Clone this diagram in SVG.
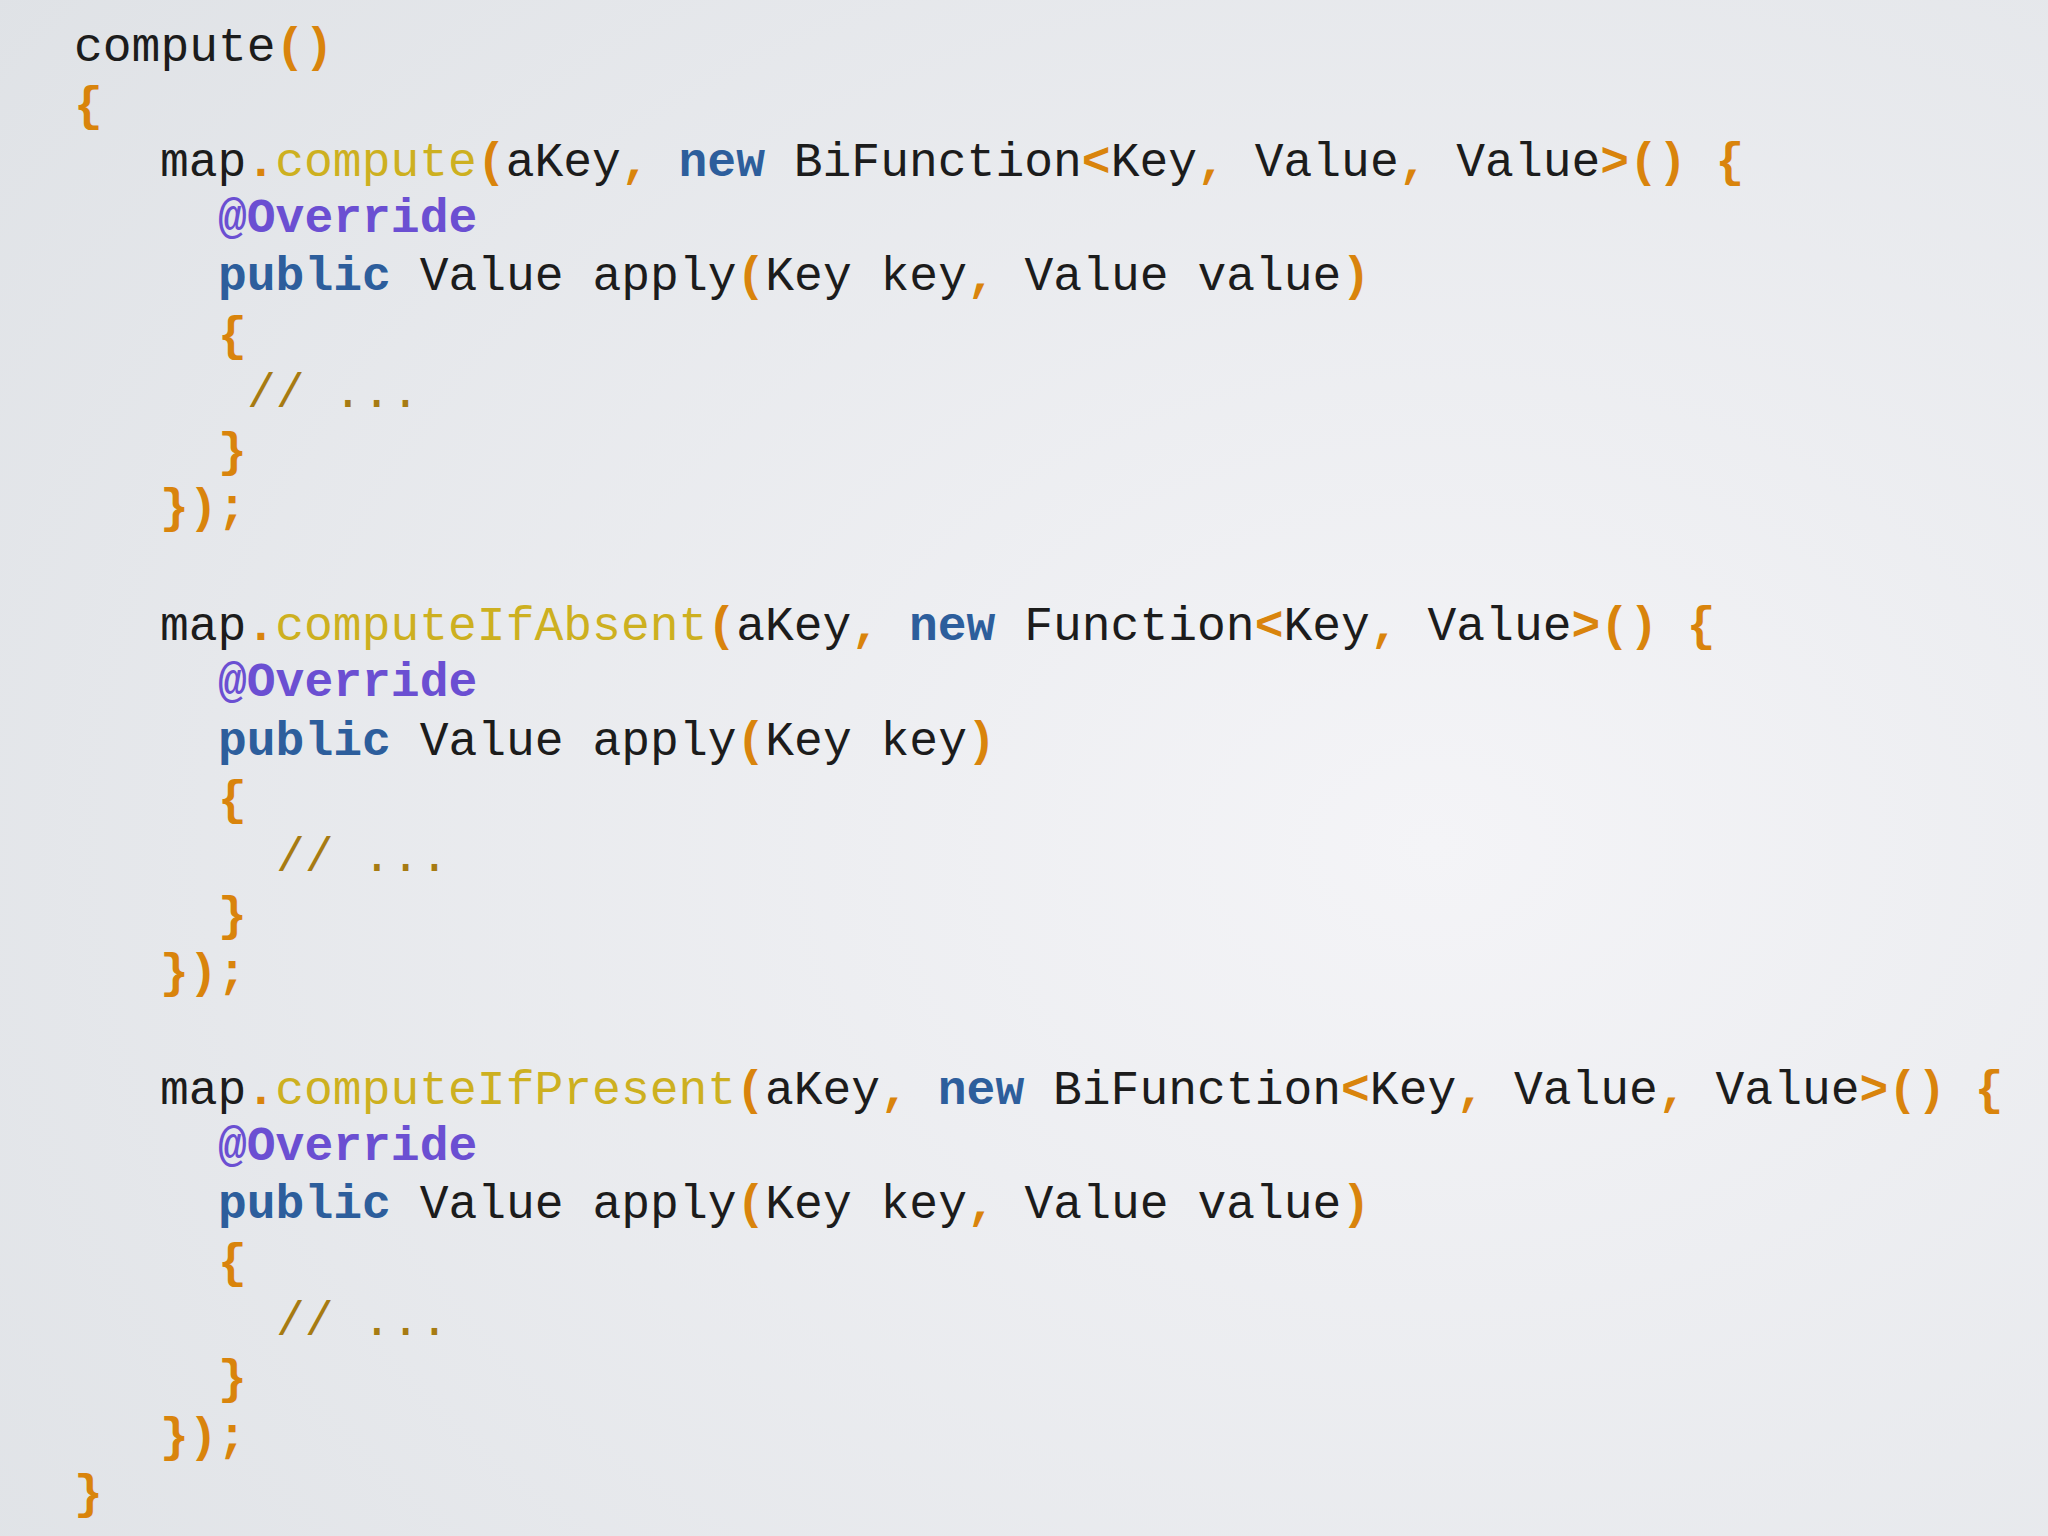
<svg xmlns="http://www.w3.org/2000/svg" width="2048" height="1536" viewBox="0 0 2048 1536">
<defs>
<radialGradient id="bg" cx="0.7" cy="0.55" r="0.9">
<stop offset="0" stop-color="#f4f4f7"/>
<stop offset="1" stop-color="#dfe2e6"/>
</radialGradient>
<style>
text{font-family:"Liberation Mono","Courier New",monospace;font-size:48px;fill:#1c1c1c;white-space:pre}
.p{fill:#d9840c;font-weight:bold}
.m{fill:#cdb020}
.k{fill:#2d5e9c;font-weight:bold}
.a{fill:#6b4fd2;font-weight:bold}
.c{fill:#a77b12}
</style>
</defs>
<rect width="2048" height="1536" fill="url(#bg)"/>
<g xml:space="preserve">
<text x="74" y="61">compute<tspan class="p">()</tspan></text>
<text x="74" y="120"><tspan class="p">{</tspan></text>
<text x="160" y="176">map<tspan class="p">.</tspan><tspan class="m">compute</tspan><tspan class="p">(</tspan>aKey<tspan class="p">,</tspan> <tspan class="k">new</tspan> BiFunction<tspan class="p">&lt;</tspan>Key<tspan class="p">,</tspan> Value<tspan class="p">,</tspan> Value<tspan class="p">&gt;()</tspan> <tspan class="p">{</tspan></text>
<text x="218" y="232" class="a">@Override</text>
<text x="218" y="290"><tspan class="k">public</tspan> Value apply<tspan class="p">(</tspan>Key key<tspan class="p">,</tspan> Value value<tspan class="p">)</tspan></text>
<text x="218" y="350"><tspan class="p">{</tspan></text>
<text x="247" y="407" class="c">// ...</text>
<text x="218" y="466"><tspan class="p">}</tspan></text>
<text x="160" y="522"><tspan class="p">});</tspan></text>

<text x="160" y="640">map<tspan class="p">.</tspan><tspan class="m">computeIfAbsent</tspan><tspan class="p">(</tspan>aKey<tspan class="p">,</tspan> <tspan class="k">new</tspan> Function<tspan class="p">&lt;</tspan>Key<tspan class="p">,</tspan> Value<tspan class="p">&gt;()</tspan> <tspan class="p">{</tspan></text>
<text x="218" y="696" class="a">@Override</text>
<text x="218" y="755"><tspan class="k">public</tspan> Value apply<tspan class="p">(</tspan>Key key<tspan class="p">)</tspan></text>
<text x="218" y="814"><tspan class="p">{</tspan></text>
<text x="276" y="871" class="c">// ...</text>
<text x="218" y="930"><tspan class="p">}</tspan></text>
<text x="160" y="987"><tspan class="p">});</tspan></text>

<text x="160" y="1104">map<tspan class="p">.</tspan><tspan class="m">computeIfPresent</tspan><tspan class="p">(</tspan>aKey<tspan class="p">,</tspan> <tspan class="k">new</tspan> BiFunction<tspan class="p">&lt;</tspan>Key<tspan class="p">,</tspan> Value<tspan class="p">,</tspan> Value<tspan class="p">&gt;()</tspan> <tspan class="p">{</tspan></text>
<text x="218" y="1160" class="a">@Override</text>
<text x="218" y="1218"><tspan class="k">public</tspan> Value apply<tspan class="p">(</tspan>Key key<tspan class="p">,</tspan> Value value<tspan class="p">)</tspan></text>
<text x="218" y="1277"><tspan class="p">{</tspan></text>
<text x="276" y="1335" class="c">// ...</text>
<text x="218" y="1393"><tspan class="p">}</tspan></text>
<text x="160" y="1451"><tspan class="p">});</tspan></text>
<text x="74" y="1508"><tspan class="p">}</tspan></text>
</g>
</svg>
